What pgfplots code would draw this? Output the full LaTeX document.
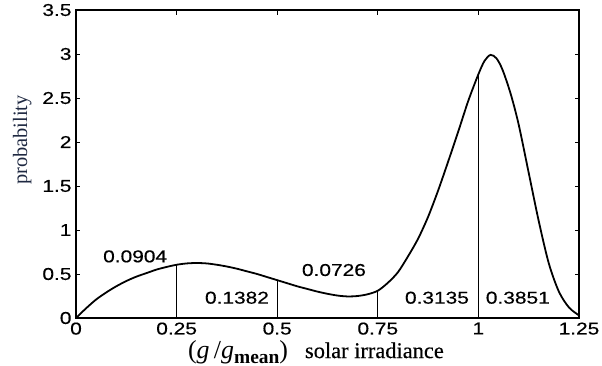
\documentclass[border=0pt]{standalone}
\usepackage{fontspec}
\setmainfont{Liberation Serif}
\newfontfamily\tickfont[FakeStretch=1.22,FakeBold=0.4]{Liberation Sans}
\newfontfamily\labfont[FakeBold=0.3]{Liberation Serif}
\usepackage{pgfplots}
\pgfplotsset{compat=1.18}
\definecolor{ylab}{RGB}{30,40,65}
\begin{document}
\begin{tikzpicture}
\begin{axis}[name=ax,
  scale only axis, width=503bp, height=308bp,
  xmin=0, xmax=1.25, ymin=0, ymax=3.5,
  xtick={0,0.25,0.5,0.75,1,1.25},
  ytick={0,0.5,1,1.5,2,2.5,3,3.5},
  xticklabels={0,0.25,0.5,0.75,1,1.25},
  yticklabels={0,0.5,1,1.5,2,2.5,3,3.5},
  tick align=inside, major tick length=4.5bp,
  axis line style={line width=1.3pt},
  tick style={line width=1pt, black},
  ticklabel style={font=\tickfont\fontsize{17.2}{17}\selectfont},
  xticklabel style={yshift=-1bp},
  yticklabel style={xshift=-1bp},
  xlabel={{\fontsize{26}{26}\selectfont(\textit{g}\,/\textit{g}\raisebox{-5bp}{\fontsize{19.5}{20}\selectfont\bfseries mean})}\hspace{17bp}{\labfont\fontsize{22.5}{24}\selectfont solar irradiance}},
  ylabel={probability},
  xlabel style={at={(axis description cs:0.477,-0.130)}, anchor=base, inner sep=0pt},
  ylabel style={font=\fontsize{20.5}{22}\selectfont, text=ylab, at={(axis description cs:-0.107,0.578)}, anchor=center, rotate=0},
  clip=false,
]
\addplot[black, line width=1.8pt, smooth, tension=0.5] coordinates {
(0,0) (0.025,0.11) (0.05,0.21) (0.075,0.29) (0.1,0.36) (0.125,0.42) (0.15,0.47)
(0.175,0.51) (0.2,0.55) (0.225,0.58) (0.25,0.605) (0.275,0.62) (0.3,0.625)
(0.325,0.62) (0.35,0.605) (0.375,0.585) (0.4,0.56) (0.425,0.53) (0.45,0.50)
(0.475,0.465) (0.5,0.43) (0.525,0.395) (0.55,0.36) (0.575,0.33) (0.6,0.30)
(0.625,0.275) (0.65,0.255) (0.675,0.245) (0.7,0.25) (0.725,0.27) (0.75,0.31)
(0.775,0.40) (0.8,0.52) (0.825,0.70) (0.85,0.90) (0.875,1.15) (0.9,1.45)
(0.925,1.78) (0.95,2.12) (0.975,2.47) (1.0,2.77) (1.015,2.92) (1.03,2.99)
(1.045,2.95) (1.06,2.82) (1.08,2.55) (1.1,2.20) (1.125,1.65) (1.15,1.10)
(1.175,0.62) (1.2,0.30) (1.225,0.12) (1.25,0.03)
};
\addplot[ycomb, black, line width=1.35pt, mark=none] coordinates {
(0.25,0.605) (0.5,0.43) (0.75,0.31) (1,2.77)
};
\begin{scope}[every node/.style={font=\tickfont\fontsize{17.2}{17}\selectfont, inner sep=0pt}]
\node at (axis cs:0.147,0.70) {0.0904};
\node at (axis cs:0.40,0.23) {0.1382};
\node at (axis cs:0.641,0.545) {0.0726};
\node at (axis cs:0.897,0.23) {0.3135};
\node at (axis cs:1.098,0.23) {0.3851};
\end{scope}
\end{axis}
\pgfresetboundingbox
\path (ax.south west) ++(-76bp,-48bp) rectangle ++(602bp,366bp);
\end{tikzpicture}
\end{document}
